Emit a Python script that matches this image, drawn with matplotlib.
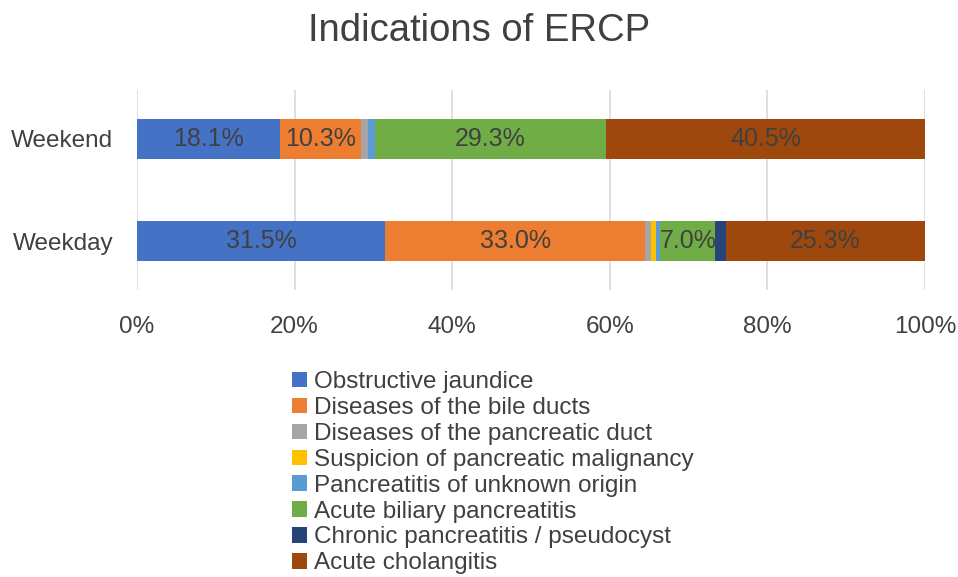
import numpy as np
import matplotlib
matplotlib.use("Agg")
import matplotlib.pyplot as plt

plt.rcParams['font.family'] = ['Liberation Sans', 'DejaVu Sans']

groups = ['Weekday', 'Weekend']
categories = ['Obstructive jaundice', 'Diseases of the bile ducts',
              'Diseases of the pancreatic duct', 'Suspicion of pancreatic malignancy',
              'Pancreatitis of unknown origin', 'Acute biliary pancreatitis',
              'Chronic pancreatitis / pseudocyst', 'Acute cholangitis']
# percentages, [weekday, weekend]
values = {
    'Obstructive jaundice': [31.5, 18.1],
    'Diseases of the bile ducts': [33.0, 10.3],
    'Diseases of the pancreatic duct': [0.7, 0.9],
    'Suspicion of pancreatic malignancy': [0.7, 0.0],
    'Pancreatitis of unknown origin': [0.5, 0.9],
    'Acute biliary pancreatitis': [7.0, 29.3],
    'Chronic pancreatitis / pseudocyst': [1.3, 0.0],
    'Acute cholangitis': [25.3, 40.5],
}
colors = ['#4472C4', '#ED7D31', '#A5A5A5', '#FFC000', '#5B9BD5', '#70AD47', '#264478', '#9E480E']

fig = plt.figure(figsize=(9.58, 5.77), dpi=100)
ax = fig.add_axes([137/958, 1-290/577, 788/958, 200/577])

y = np.arange(len(groups))
left = np.zeros(len(groups))
for cat, col in zip(categories, colors):
    v = np.array(values[cat])
    bars = ax.barh(y, v, left=left, height=0.4, color=col, label=cat, zorder=3)
    for b, val in zip(bars, v):
        if val >= 5:
            ax.text(b.get_x() + b.get_width()/2, b.get_y() + b.get_height()/2,
                    f'{val:.1f}%', ha='center', va='center', fontsize=18,
                    color='#404040', zorder=4)
    left += v

ax.set_xlim(0, 100)
ax.set_ylim(-0.48, 1.48)
ax.set_xticks(np.arange(0, 101, 20))
ax.set_xticklabels([f'{t}%' for t in range(0, 101, 20)])
ax.set_yticks(y)
ax.set_yticklabels(groups)
ax.tick_params(length=0, labelsize=17.5, labelcolor='#404040')
ax.tick_params(axis='x', pad=19)
ax.tick_params(axis='y', pad=17)
ax.grid(axis='x', color='#D9D9D9', linewidth=1.2, zorder=0)
for s in ax.spines.values():
    s.set_visible(False)

fig.text(0.5, 1-31/577, 'Indications of ERCP', ha='center', va='center',
         fontsize=27.5, color='#404040')

fig.legend(loc='upper left', bbox_to_anchor=(280/958, 1-359/577), frameon=False,
           fontsize=17.5, handlelength=0.6, handleheight=0.6, handletextpad=0.3,
           labelspacing=0.16, borderpad=0, labelcolor='#404040')

fig.savefig('out.png', dpi=100)
